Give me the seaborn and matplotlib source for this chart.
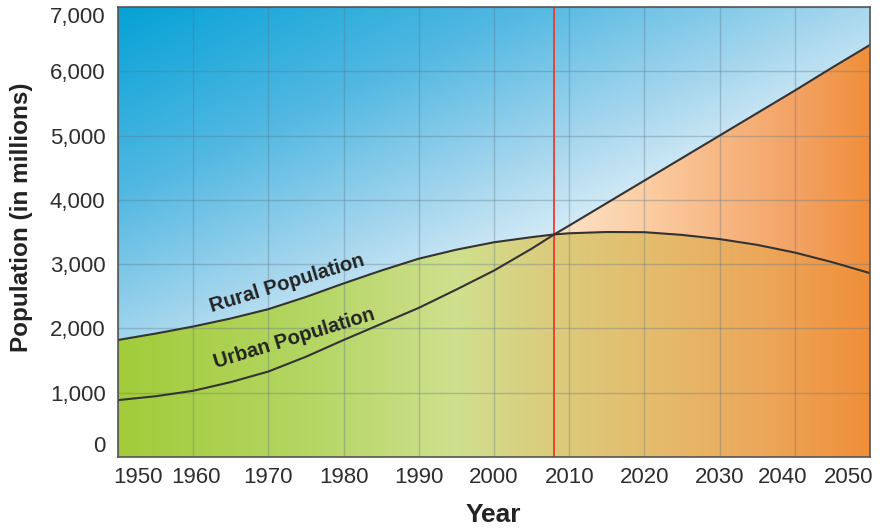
import numpy as np
import pandas as pd
import seaborn as sns
import matplotlib
matplotlib.use("Agg")
import matplotlib.pyplot as plt
import matplotlib.transforms as mtransforms
from matplotlib.colors import LinearSegmentedColormap
from matplotlib.ticker import FuncFormatter

# World rural and urban population, 1950-2050 (millions)
years = [1950, 1955, 1960, 1965, 1970, 1975, 1980, 1985, 1990, 1995, 2000,
         2005, 2008, 2010, 2015, 2020, 2025, 2030, 2035, 2040, 2045, 2050]
rural = [1820, 1920, 2030, 2155, 2300, 2490, 2700, 2900, 3085, 3225, 3340,
         3420, 3462, 3480, 3500, 3497, 3455, 3390, 3300, 3180, 3030, 2860]
urban = [885, 945, 1030, 1165, 1330, 1560, 1820, 2070, 2320, 2605, 2900,
         3240, 3462, 3600, 3950, 4300, 4650, 5000, 5350, 5700, 6060, 6410]
crossover_year = 2008

x_ticks = list(range(1950, 2051, 10))
y_ticks = list(range(0, 7001, 1000))

df = pd.DataFrame({"Year": years, "Rural": rural, "Urban": urban})

sns.set_style("white")
plt.rcParams["font.family"] = ["Liberation Sans", "DejaVu Sans"]

fig = plt.figure(figsize=(8.81, 5.28), dpi=100)
ax = fig.add_axes([118 / 881, 1 - 457 / 528, 752 / 881, 450 / 528])

x0, x1, y0, y1 = 1950, 2050, 0, 7000
extent = [x0, x1, y0, y1]

# Sky gradient: deep blue in the upper left fading to white toward the crossover
H, W = 300, 400
u = np.linspace(0, 1, W)[None, :]
vd = np.linspace(0, 1, H)[:, None]
t = np.clip((u * 1.0 + vd * 1.3) / 1.55, 0, 1)
sky = LinearSegmentedColormap.from_list(
    "sky", [(0.0, "#05a2d6"), (0.35, "#52b8e2"), (0.65, "#aad8ee"),
            (0.85, "#e2f1f9"), (1.0, "#f5fbfe")])
ax.imshow(sky(t), extent=extent, aspect="auto", origin="upper",
          zorder=0, interpolation="bilinear")

# Horizontal gradients for the filled population areas
gx = np.linspace(0, 1, W)[None, :].repeat(2, axis=0)
ground = LinearSegmentedColormap.from_list(
    "ground", [(0.0, "#a2cc3a"), (0.25, "#b4d663"), (0.45, "#cfe08e"),
               (0.58, "#dccb7c"), (0.72, "#e5bb6c"), (0.86, "#eca75a"),
               (1.0, "#f08f3a")])
peach = LinearSegmentedColormap.from_list(
    "peach", [(0.0, "#fde3ca"), (0.58, "#fde3ca"), (0.7, "#fbcea4"),
              (0.8, "#f7b885"), (0.9, "#f3a366"), (1.0, "#f08f3c")])

rural_arr = np.array(rural, dtype=float)
urban_arr = np.array(urban, dtype=float)

under = ax.fill_between(years, 0, rural_arr, facecolor="none", edgecolor="none")
img_a = ax.imshow(ground(gx), extent=extent, aspect="auto", zorder=1,
                  interpolation="bilinear")
img_a.set_clip_path(under.get_paths()[0], ax.transData)

between = ax.fill_between(years, rural_arr, urban_arr,
                          where=urban_arr >= rural_arr, interpolate=True,
                          facecolor="none", edgecolor="none")
img_b = ax.imshow(peach(gx), extent=extent, aspect="auto", zorder=1,
                  interpolation="bilinear")
img_b.set_clip_path(between.get_paths()[0], ax.transData)

# Population curves
sns.lineplot(data=df, x="Year", y="Rural", ax=ax, color="#333333", lw=1.5,
             zorder=3)
sns.lineplot(data=df, x="Year", y="Urban", ax=ax, color="#333333", lw=1.5,
             zorder=3)

ax.axvline(crossover_year, color="#ea3b2e", lw=1.3, zorder=2.8)

ax.text(1972.5, 2700, "Rural Population", rotation=17, ha="center",
        va="center", rotation_mode="anchor", fontsize=14.5,
        fontweight="bold", color="#222222", zorder=4)
ax.text(1973.5, 1840, "Urban Population", rotation=17, ha="center",
        va="center", rotation_mode="anchor", fontsize=14.5,
        fontweight="bold", color="#222222", zorder=4)

ax.set_xlim(x0, x1)
ax.set_ylim(y0, y1)
ax.set_xticks(x_ticks)
ax.set_yticks(y_ticks)
ax.yaxis.set_major_formatter(FuncFormatter(lambda v, p: f"{int(v):,}"))
ax.set_axisbelow(False)
ax.grid(True, color="#5a7484", alpha=0.35, lw=1.0)
ax.tick_params(length=0, labelsize=16, labelcolor="#2e2e2e")
ax.tick_params(axis="y", pad=9)
ax.tick_params(axis="x", pad=7)

# Nudge the crowded year labels the way the printed scale sets them
nudges = {1950: -5, 1960: 3, 2040: -12, 2050: 3}
xl = ax.get_xticklabels()
xl[0].set_ha("left")
xl[-1].set_ha("right")
for lab, yr in zip(xl, x_ticks):
    dx = nudges.get(yr, 0)
    if dx:
        lab.set_transform(lab.get_transform() +
                          mtransforms.ScaledTranslation(dx / 100, 0,
                                                        fig.dpi_scale_trans))
yl = ax.get_yticklabels()
yl[0].set_va("bottom")
yl[-1].set_va("top")

for s in ax.spines.values():
    s.set_visible(True)
    s.set_color("#555555")
    s.set_linewidth(1.2)
    s.set_zorder(5)

ax.set_xlabel("Year", fontsize=19, fontweight="bold", color="#222222")
ax.set_ylabel("Population (in millions)", fontsize=17.5, fontweight="bold",
              color="#222222")
ax.xaxis.label.set_verticalalignment("center")
ax.yaxis.label.set_verticalalignment("center")
ax.yaxis.label.set_horizontalalignment("center")
ax.xaxis.set_label_coords(0.499, -0.129)
ax.yaxis.set_label_coords(-0.128, 0.533)

fig.savefig("out.png", dpi=100)
